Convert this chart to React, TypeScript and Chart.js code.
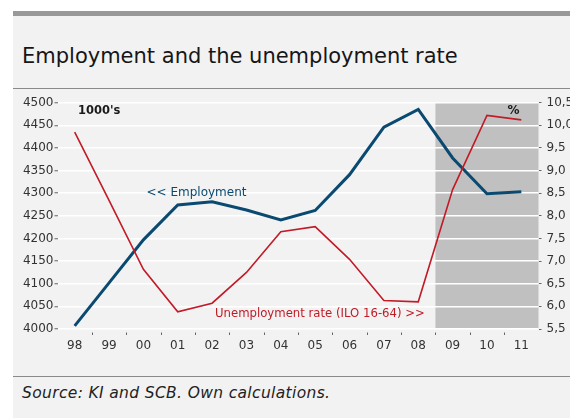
import React, { useEffect, useRef } from "react";
import { Chart, registerables } from "chart.js";

Chart.register(...registerables);

const years = ["98", "99", "00", "01", "02", "03", "04", "05", "06", "07", "08", "09", "10", "11"];
const employment = [4007, 4102, 4197, 4274, 4281, 4263, 4241, 4262, 4341, 4446, 4485, 4378, 4299, 4303];
const unemploymentRate = [9.85, 8.34, 6.82, 5.88, 6.07, 6.75, 7.65, 7.76, 7.04, 6.13, 6.1, 8.58, 10.22, 10.12];
const forecastFrom = "09";
const leftMin = 4000;
const leftMax = 4500;
const leftStep = 50;
const rightMin = 5.5;
const rightMax = 10.5;
const rightStep = 0.5;

const titleText = "Employment and the unemployment rate";
const sourceText = "Source: KI and SCB. Own calculations.";
const leftUnit = "1000's";
const rightUnit = "%";
const employmentLabel = "<< Employment";
const unemploymentLabel = "Unemployment rate (ILO 16-64) >>";

const BLUE = "#0b4a70";
const RED = "#c11b27";
const FONT = "'DejaVu Sans', sans-serif";

const CANVAS_W = 600;
const CANVAS_H = 279;

export default function App() {
  const ref = useRef<HTMLCanvasElement | null>(null);

  useEffect(() => {
    const canvas = ref.current;
    if (!canvas) return;

    const shadePlugin = {
      id: "shade",
      beforeDraw(chart: any) {
        const { ctx, chartArea, scales } = chart;
        const x = scales.x;
        const idx = years.indexOf(forecastFrom);
        const step = (chartArea.right - chartArea.left) / years.length;
        const x0 = x.getPixelForValue(idx) - step / 2;
        ctx.save();
        ctx.fillStyle = "#c0c0c0";
        ctx.fillRect(x0, chartArea.top, chartArea.right - x0, chartArea.bottom - chartArea.top);
        ctx.restore();
      },
      afterDraw(chart: any) {
        const { ctx, chartArea } = chart;
        const step = (chartArea.right - chartArea.left) / years.length;
        ctx.save();
        // bottom tick marks at category boundaries
        ctx.strokeStyle = "#666";
        ctx.lineWidth = 1;
        for (let i = 1; i < years.length; i++) {
          const xx = Math.round(chartArea.left + i * step) + 0.5;
          ctx.beginPath();
          ctx.moveTo(xx, chartArea.bottom + 3.5);
          ctx.lineTo(xx, chartArea.bottom + 6);
          ctx.stroke();
        }
        // annotations
        ctx.textBaseline = "middle";
        ctx.textAlign = "left";
        ctx.fillStyle = "#1a1a1a";
        ctx.font = `bold 11.5px ${FONT}`;
        ctx.fillText(leftUnit, chartArea.left + 20.5, chartArea.top + 8.5);
        ctx.font = `bold 12px ${FONT}`;
        ctx.textAlign = "center";
        ctx.fillText(rightUnit, chartArea.right - 25, chartArea.top + 8);
        ctx.textAlign = "left";
        ctx.fillStyle = BLUE;
        ctx.font = `12px ${FONT}`;
        ctx.fillText(employmentLabel, chartArea.left + 89, chartArea.top + 90.5);
        ctx.fillStyle = RED;
        ctx.font = `11.7px ${FONT}`;
        ctx.fillText(unemploymentLabel, chartArea.left + 157.5, chartArea.top + 211.5);
        ctx.restore();
      },
    };

    const chart = new Chart(canvas, {
      type: "line",
      data: {
        labels: years,
        datasets: [
          {
            label: "Unemployment rate",
            data: unemploymentRate,
            yAxisID: "y1",
            borderColor: RED,
            borderWidth: 1.6,
            pointRadius: 0,
            tension: 0,
            fill: false,
          },
          {
            label: "Employment",
            data: employment,
            yAxisID: "y",
            borderColor: BLUE,
            borderWidth: 3,
            pointRadius: 0,
            tension: 0,
            fill: false,
          },
        ],
      },
      options: {
        responsive: false,
        animation: false,
        devicePixelRatio: 1,
        layout: { padding: { top: 12.7, left: 0, right: 0, bottom: 0 } },
        plugins: {
          legend: { display: false },
          tooltip: { enabled: false },
          title: { display: false },
        },
        scales: {
          x: {
            type: "category",
            offset: true,
            grid: { display: true, drawOnChartArea: false, drawTicks: false, color: "rgba(0,0,0,0)" },
            border: { display: false },
            ticks: {
              font: { family: FONT, size: 12 },
              color: "#333",
              padding: 10,
              maxRotation: 0,
              autoSkip: false,
            },
            afterFit: (s: any) => {
              s.height = 40;
            },
          },
          y: {
            position: "left",
            min: leftMin,
            max: leftMax,
            border: { display: false },
            grid: {
              color: "#ffffff",
              lineWidth: 1.5,
              drawTicks: true,
              tickLength: 3,
              tickColor: "#666",
              tickWidth: 1,
            },
            ticks: {
              stepSize: leftStep,
              font: { family: FONT, size: 12 },
              color: "#333",
              padding: 1,
              callback: (v: any) => String(v),
            },
            afterFit: (s: any) => {
              s.width = 57.5;
            },
          },
          y1: {
            position: "right",
            min: rightMin,
            max: rightMax,
            border: { display: false },
            grid: {
              drawOnChartArea: false,
              drawTicks: true,
              tickLength: 3,
              tickColor: "#666",
              tickWidth: 1,
            },
            ticks: {
              stepSize: rightStep,
              font: { family: FONT, size: 12 },
              color: "#333",
              padding: 5,
              callback: (v: any) => Number(v).toFixed(1).replace(".", ","),
            },
            afterFit: (s: any) => {
              s.width = CANVAS_W - 538.5;
            },
          },
        },
      },
      plugins: [shadePlugin],
    });

    return () => chart.destroy();
  }, []);

  return (
    <div style={{ position: "fixed", left: 0, top: 0, width: 581, height: 418, background: "#ffffff", overflow: "hidden" }}>
      <div
        style={{
          position: "absolute",
          left: 13,
          top: 11,
          width: 557,
          height: 407,
          background: "#f2f2f2",
          overflow: "hidden",
        }}
      >
        <div style={{ position: "absolute", left: 0, top: 0, width: 557, height: 4.7, background: "#999999" }} />
        <div
          style={{
            position: "absolute",
            left: 9,
            top: 33,
            whiteSpace: "nowrap",
            fontFamily: FONT,
            fontSize: 21,
            lineHeight: "24px",
            color: "#161616",
          }}
        >
          {titleText}
        </div>
        <div style={{ position: "absolute", left: 0, top: 77, width: 557, height: 1, background: "#8a8a8a" }} />
        <canvas
          ref={ref}
          width={CANVAS_W}
          height={CANVAS_H}
          style={{ position: "absolute", left: -13, top: 79, width: CANVAS_W, height: CANVAS_H }}
        />
        <div style={{ position: "absolute", left: 0, top: 365, width: 557, height: 1, background: "#8a8a8a" }} />
        <div
          style={{
            position: "absolute",
            left: 9,
            top: 373,
            whiteSpace: "nowrap",
            fontFamily: FONT,
            fontStyle: "italic",
            fontSize: 15.5,
            letterSpacing: "0.35px",
            lineHeight: "18px",
            color: "#222",
          }}
        >
          {sourceText}
        </div>
      </div>
    </div>
  );
}
